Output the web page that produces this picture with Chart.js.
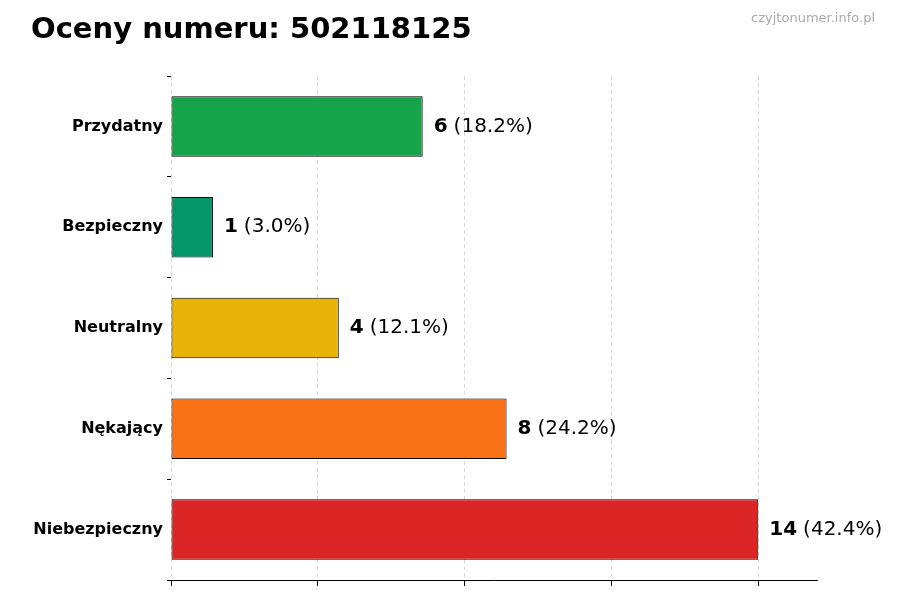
<!DOCTYPE html>
<html>
<head>
<meta charset="utf-8">
<script src="https://cdn.jsdelivr.net/npm/chart.js@4"></script>
<style>
  body { margin: 0; background: #fff; }
  #wrap { position: relative; width: 900px; height: 600px; }
  h1 { position: absolute; left: 31px; top: 11px; margin: 0; font: bold 29px "DejaVu Sans", sans-serif; color: #000; }
  #mark { position: absolute; right: 25px; top: 10px; font: 13px "DejaVu Sans", sans-serif; color: #aaa; }
</style>
</head>
<body>
<div id="wrap">
  <canvas id="chart" width="900" height="600"></canvas>
  <h1>Oceny numeru: 502118125</h1>
  <div id="mark">czyjtonumer.info.pl</div>
</div>
<script>
const categories = ["Przydatny", "Bezpieczny", "Neutralny", "Nękający", "Niebezpieczny"];
const counts = [6, 1, 4, 8, 14];
const percents = ["18.2%", "3.0%", "12.1%", "24.2%", "42.4%"];
const colors = ["#16a34a", "#059669", "#eab308", "#f97316", "#dc2626"];
const gridTicks = [0, 3.5, 7, 10.5, 14];

const valueLabels = {
  id: "valueLabels",
  afterDatasetsDraw(chart) {
    const ctx = chart.ctx;
    const meta = chart.getDatasetMeta(0);
    ctx.save();
    ctx.textBaseline = "middle";
    meta.data.forEach((bar, i) => {
      let x = bar.x + 11;
      ctx.font = "bold 20px 'DejaVu Sans', sans-serif";
      ctx.fillStyle = "#000";
      const v = String(counts[i]);
      ctx.fillText(v, x, bar.y);
      x += ctx.measureText(v).width + 6;
      ctx.font = "20px 'DejaVu Sans', sans-serif";
      ctx.fillText("(" + percents[i] + ")", x, bar.y);
    });
    ctx.restore();
  }
};

new Chart(document.getElementById("chart"), {
  type: "bar",
  data: {
    labels: categories,
    datasets: [{
      data: counts,
      backgroundColor: colors,
      borderColor: "#000",
      borderWidth: 1,
      borderSkipped: false,
      barPercentage: 0.6,
      categoryPercentage: 1
    }]
  },
  options: {
    indexAxis: "y",
    responsive: false,
    animation: false,
    layout: { padding: { top: 76, right: 83, bottom: 0, left: 0 } },
    plugins: { legend: { display: false }, tooltip: { enabled: false } },
    scales: {
      x: {
        min: 0,
        max: 15.4,
        afterBuildTicks: (s) => { s.ticks = gridTicks.map((v) => ({ value: v })); },
        afterFit: (s) => { s.height = 20; },
        ticks: { display: false },
        grid: { color: "#d9d9d9", tickColor: "#000", tickLength: 6, lineWidth: 1, tickBorderDash: [], borderDash: [4, 3] },
        border: { display: true, color: "#000", dash: [4, 3] }
      },
      y: {
        afterFit: (s) => { s.width = 171; },
        grid: { display: true, drawOnChartArea: false, tickLength: 4, tickColor: "#000" },
        border: { display: false },
        ticks: { color: "#000", padding: 4, font: { family: "DejaVu Sans", size: 16, weight: "bold" } }
      }
    }
  },
  plugins: [valueLabels, {
    id: "dashGrid",
    beforeDraw(chart) {
      chart.scales.x.options.grid.borderDash = [4, 3];
    }
  }]
});
</script>
</body>
</html>
